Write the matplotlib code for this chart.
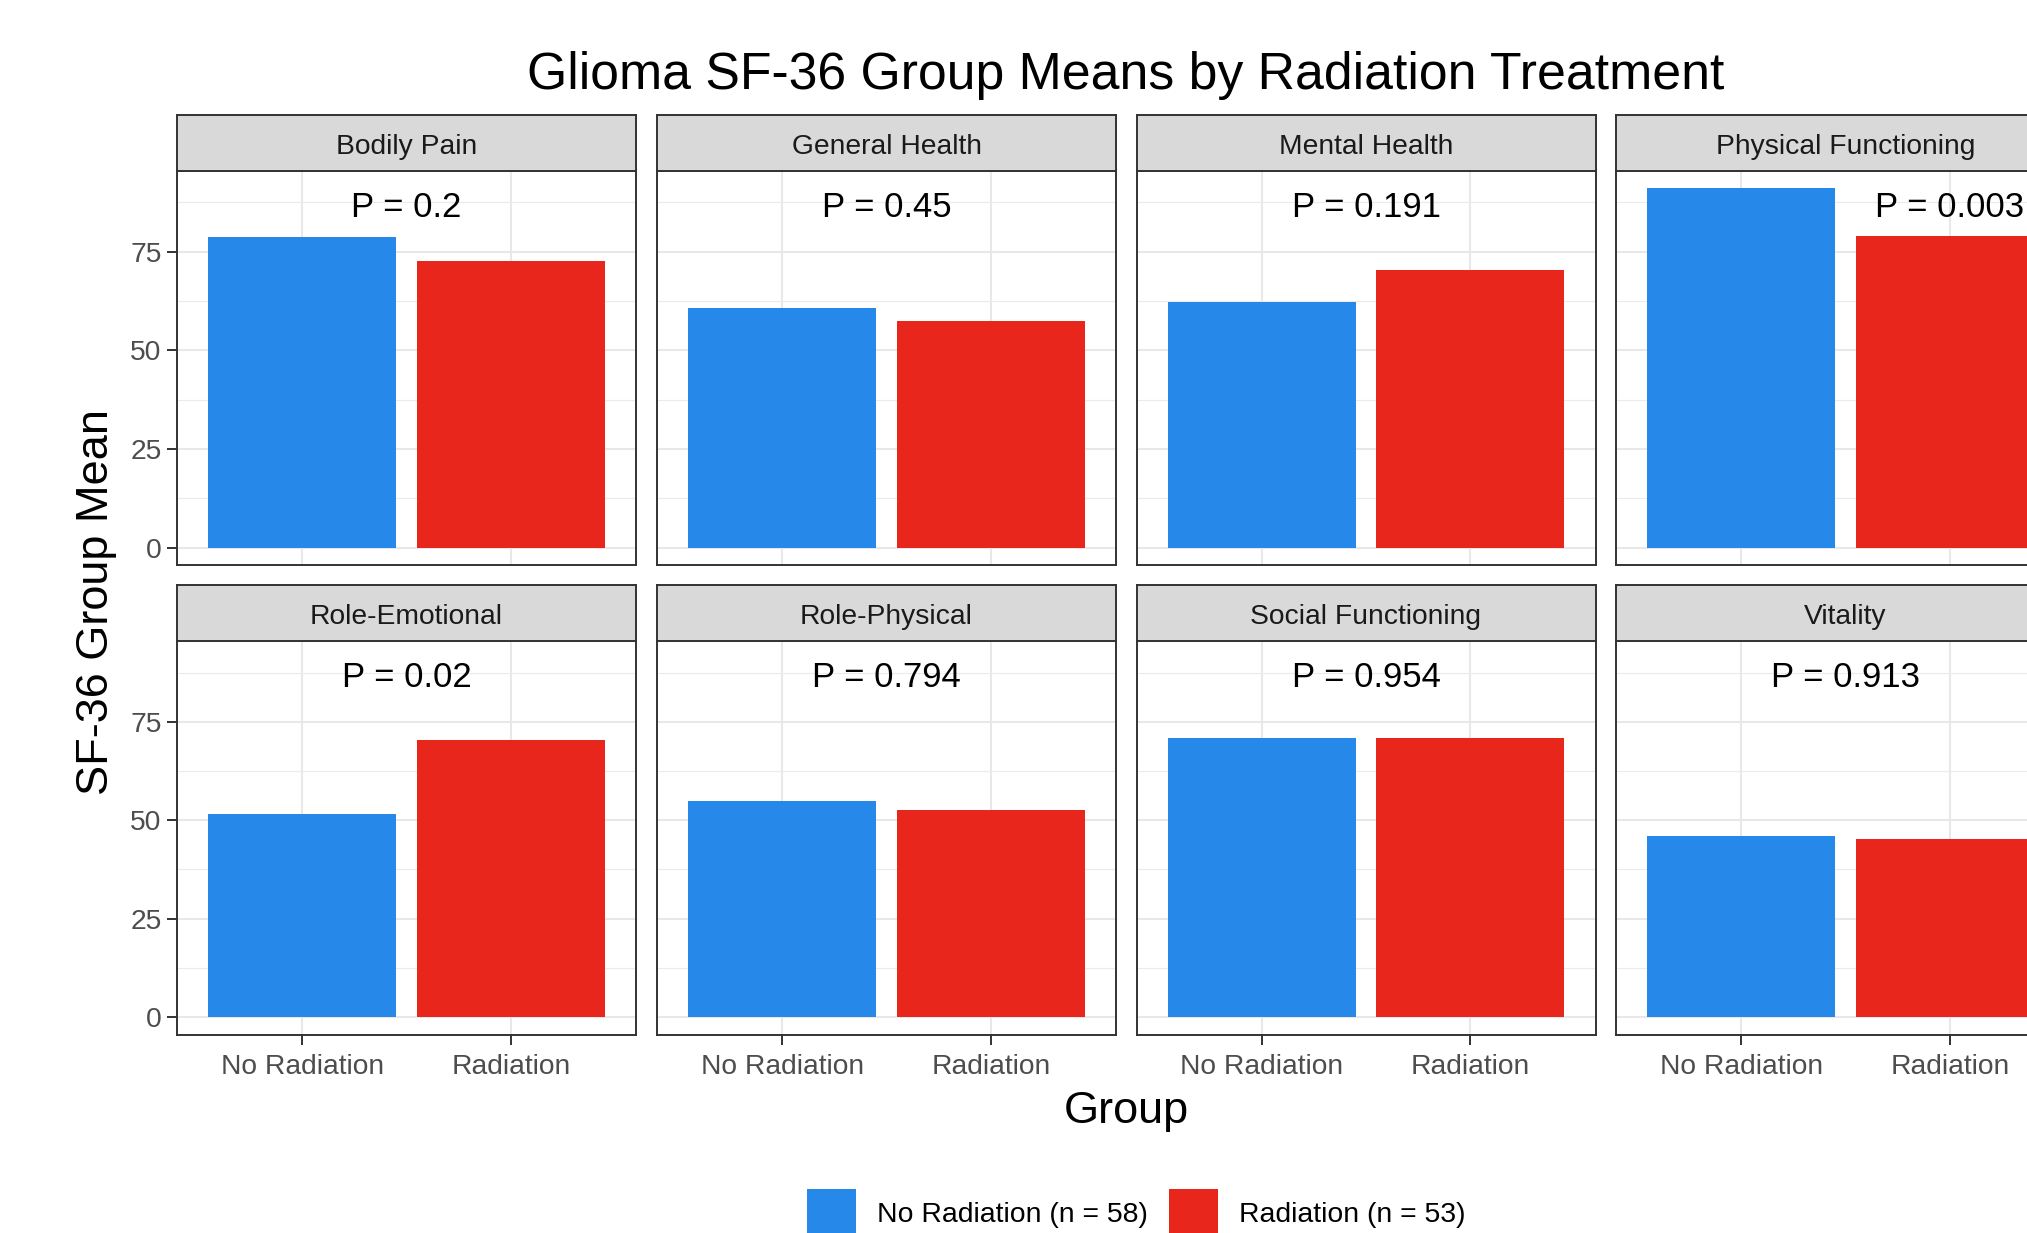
import matplotlib
matplotlib.use("Agg")
import matplotlib.pyplot as plt
from matplotlib.patches import Patch

plt.rcParams['font.family'] = ['Liberation Sans', 'DejaVu Sans']

### data
scales = ["Bodily Pain", "General Health", "Mental Health", "Physical Functioning",
          "Role-Emotional", "Role-Physical", "Social Functioning", "Vitality"]
groups = ["No Radiation", "Radiation"]
no_radiation = [78.6, 60.7, 62.2, 91.0, 51.7, 54.9, 70.8, 46.0]
radiation = [72.7, 57.4, 70.4, 78.9, 70.4, 52.6, 70.8, 45.3]
p_values = ["0.2", "0.45", "0.191", "0.003", "0.02", "0.794", "0.954", "0.913"]
p_label_x = [1.5, 1.5, 1.5, 2.0, 1.5, 1.5, 1.5, 1.5]
legend_labels = ["No Radiation (n = 58)", "Radiation (n = 53)"]

blue = "#2688E8"
red = "#E9261B"
W, H = 2027, 1233

def rect(x0, y0, x1, y1):
    # pixel box (top-left origin) -> figure fraction
    return [x0 / W, 1 - y1 / H, (x1 - x0) / W, (y1 - y0) / H]

fig = plt.figure(figsize=(W / 100, H / 100), dpi=100)

col_left = [177, 657, 1136.5, 1616]
panel_w = 459
rows = [(114.5, 170.5, 565.5), (585, 641, 1035)]   # strip top, panel top, panel bottom

for i, name in enumerate(scales):
    r, c = divmod(i, 4)
    s_top, p_top, p_bot = rows[r]
    x0 = col_left[c]
    x1 = x0 + panel_w

    ax = fig.add_axes(rect(x0, p_top, x1, p_bot))
    ax.bar([1, 2], [no_radiation[i], radiation[i]], width=0.9,
           color=[blue, red], zorder=3)
    ax.text(p_label_x[i], 86.2, "P = " + p_values[i], ha="center", va="center",
            fontsize=25, color="black", zorder=4)
    ax.set_xlim(0.4, 2.6)
    ax.set_ylim(-4.55, 95.55)
    ax.set_axisbelow(True)
    ax.set_yticks([0, 25, 50, 75])
    ax.set_yticks([12.5, 37.5, 62.5, 87.5], minor=True)
    ax.set_xticks([1, 2])
    ax.grid(True, which="major", color="#E8E8E8", linewidth=1.5)
    ax.grid(True, which="minor", axis="y", color="#EBEBEB", linewidth=0.8)
    for sp in ax.spines.values():
        sp.set_color("#333333")
        sp.set_linewidth(1.4)
    ax.tick_params(which="minor", length=0)
    ax.tick_params(which="major", length=7, width=1.4, color="#333333",
                   labelsize=20.3, labelcolor="#4D4D4D", pad=4)
    ax.tick_params(axis="x", pad=7)
    if c == 0:
        ax.set_yticklabels(["0", "25", "50", "75"])
    else:
        ax.tick_params(axis="y", length=0, labelleft=False)
    if r == 1:
        ax.set_xticklabels(groups)
    else:
        ax.tick_params(axis="x", length=0, labelbottom=False)

    ### facet strip
    st = fig.add_axes(rect(x0, s_top, x1, p_top))
    st.set_facecolor("#D9D9D9")
    st.set_xticks([])
    st.set_yticks([])
    for sp in st.spines.values():
        sp.set_color("#333333")
        sp.set_linewidth(1.4)
    st.text(0.5, 0.42, name, ha="center", va="center", fontsize=20.3,
            color="#1A1A1A", transform=st.transAxes)

fig.text(1126 / W, 1 - 75 / H, "Glioma SF-36 Group Means by Radiation Treatment",
         ha="center", va="center", fontsize=37.3, color="black")
fig.text(97 / W, 1 - 602 / H, "SF-36 Group Mean", rotation=90,
         ha="center", va="center", fontsize=32.5, color="black")
fig.text(1126 / W, 1 - 1112 / H, "Group", ha="center", va="center",
         fontsize=32.5, color="black")

handles = [Patch(facecolor=blue), Patch(facecolor=red)]
fig.legend(handles, legend_labels, loc="center", ncol=2,
           bbox_to_anchor=(1136.5 / W, 1 - 1213 / H), frameon=False,
           fontsize=20.4, handlelength=1.73, handleheight=2.2,
           handletextpad=0.74, columnspacing=0.74, borderpad=0)

fig.savefig("out.png", dpi=100)
